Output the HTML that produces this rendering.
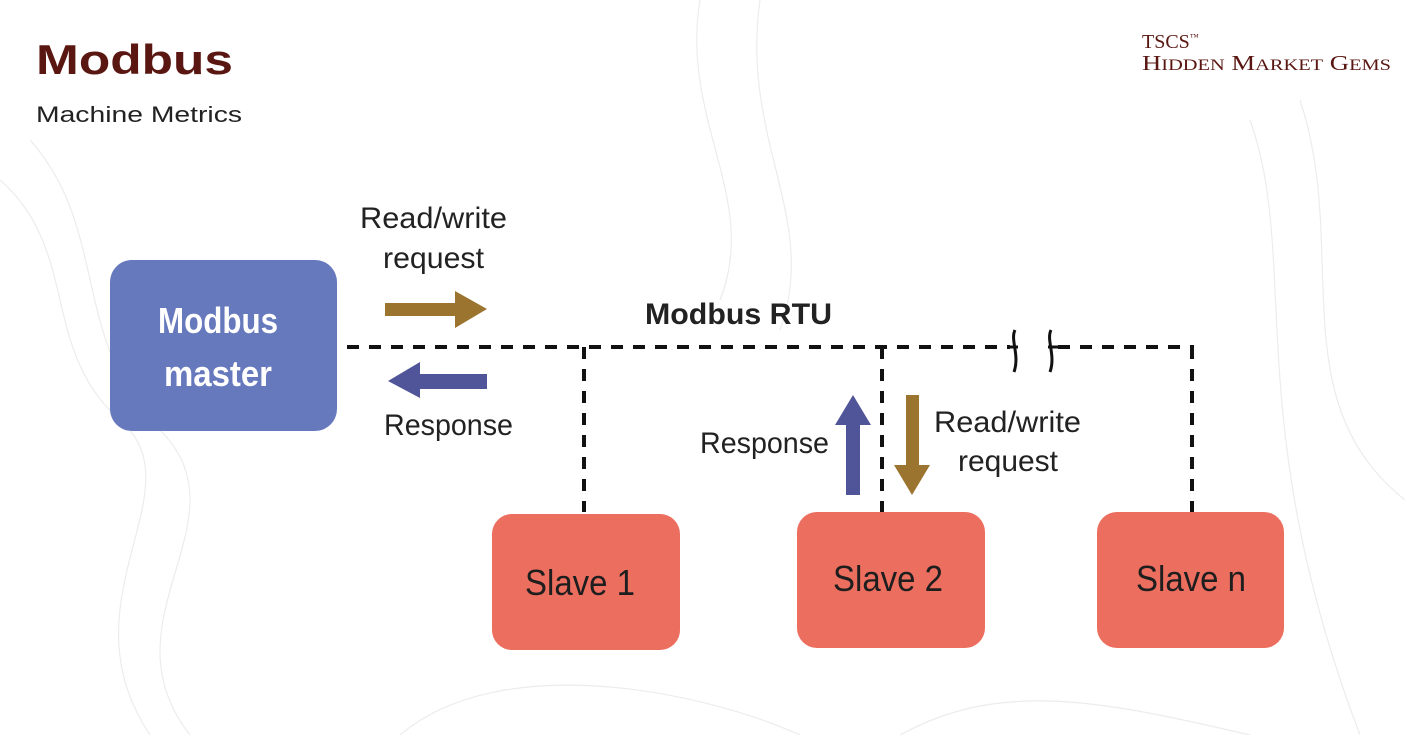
<!DOCTYPE html>
<html><head><meta charset="utf-8"><style>
html,body{margin:0;padding:0;background:#fff}
body{width:1405px;height:735px;overflow:hidden;position:relative;font-family:"Liberation Sans",sans-serif}
</style></head><body>
<svg width="1405" height="735" viewBox="0 0 1405 735" xmlns="http://www.w3.org/2000/svg" style="position:absolute;left:0;top:0">
<g fill="none" stroke="#ececec" stroke-width="1.2">
<path d="M0 180 C80 250 40 350 120 420 S 60 600 150 735"/>
<path d="M30 140 C110 230 70 340 160 430 S 100 620 190 735"/>
<path d="M700 0 C680 120 760 200 720 300"/>
<path d="M760 0 C740 140 820 220 780 330"/>
<path d="M1300 100 C1350 250 1280 400 1405 500"/>
<path d="M1250 120 C1300 260 1240 420 1360 735"/>
<path d="M400 735 C500 650 700 690 800 735"/>
<path d="M900 735 C1000 680 1100 700 1250 735"/>
</g>
<text x="36" y="74" font-family="Liberation Sans, sans-serif" font-weight="bold" font-size="42" fill="#5a1712" textLength="197" lengthAdjust="spacingAndGlyphs">Modbus</text>
<text x="36" y="122" font-family="Liberation Sans, sans-serif" font-size="22" fill="#222" textLength="206" lengthAdjust="spacingAndGlyphs">Machine Metrics</text>
<text x="1142" y="48" font-family="Liberation Serif, serif" font-size="20" fill="#5a1712">TSCS<tspan font-size="9" dy="-8">™</tspan></text>
<text x="1142" y="70" font-family="Liberation Serif, serif" font-size="21" fill="#5a1712" textLength="249" lengthAdjust="spacingAndGlyphs">H<tspan font-size="16">IDDEN</tspan> M<tspan font-size="16">ARKET</tspan> G<tspan font-size="16">EMS</tspan></text>

<rect x="110" y="260" width="227" height="171" rx="22" fill="#6779bd"/>
<g font-family="Liberation Sans Narrow, Liberation Sans, sans-serif" font-weight="bold" fill="#fff" font-size="36" text-anchor="middle">
<text x="218" y="333" textLength="120" lengthAdjust="spacingAndGlyphs">Modbus</text>
<text x="218" y="386" textLength="108" lengthAdjust="spacingAndGlyphs">master</text>
</g>
<rect x="492" y="514" width="188" height="136" rx="20" fill="#ec6e5f"/>
<rect x="797" y="512" width="188" height="136" rx="20" fill="#ec6e5f"/>
<rect x="1097" y="512" width="187" height="136" rx="20" fill="#ec6e5f"/>
<g font-family="Liberation Sans Narrow, Liberation Sans, sans-serif" fill="#1e1e1e" font-size="36" text-anchor="middle">
<text x="580" y="595" textLength="110" lengthAdjust="spacingAndGlyphs">Slave 1</text>
<text x="888" y="591" textLength="110" lengthAdjust="spacingAndGlyphs">Slave 2</text>
<text x="1191" y="591" textLength="110" lengthAdjust="spacingAndGlyphs">Slave n</text>
</g>

<g stroke="#111" stroke-width="4" stroke-dasharray="12 10" fill="none">
<path d="M347 347 H1010"/>
<path d="M1058 347 H1194"/>
<path d="M584 347 V512"/>
<path d="M882 347 V512"/>
<path d="M1192 347 V512"/>
</g>
<g stroke="#111" stroke-width="3" fill="none">
<path d="M1015 330 C1010 340 1020 355 1014 372"/>
<path d="M1051 330 C1046 340 1056 355 1050 372"/>
<path d="M1008 347 H1018 M1048 347 H1060"/>
</g>

<polygon points="385,303 455,303 455,291 487,309 455,328 455,316 385,316" fill="#9b7430"/>
<polygon points="487,374 420,374 420,362 388,381 420,398 420,389 487,389" fill="#505499"/>
<polygon points="846,495 846,425 835,425 853,395 871,425 860,425 860,495" fill="#505499"/>
<polygon points="906,395 919,395 919,465 930,465 912,495 894,465 906,465" fill="#9b7430"/>

<g font-family="Liberation Sans Narrow, Liberation Sans, sans-serif" fill="#222" font-size="30">
<text x="360" y="228" textLength="147" lengthAdjust="spacingAndGlyphs">Read/write</text>
<text x="383" y="268" textLength="101" lengthAdjust="spacingAndGlyphs">request</text>
<text x="645" y="324" font-weight="bold" textLength="187" lengthAdjust="spacingAndGlyphs">Modbus RTU</text>
<text x="384" y="435" textLength="129" lengthAdjust="spacingAndGlyphs">Response</text>
<text x="700" y="453" textLength="129" lengthAdjust="spacingAndGlyphs">Response</text>
<text x="934" y="432" textLength="147" lengthAdjust="spacingAndGlyphs">Read/write</text>
<text x="958" y="471" textLength="100" lengthAdjust="spacingAndGlyphs">request</text>
</g>
</svg>
</body></html>
